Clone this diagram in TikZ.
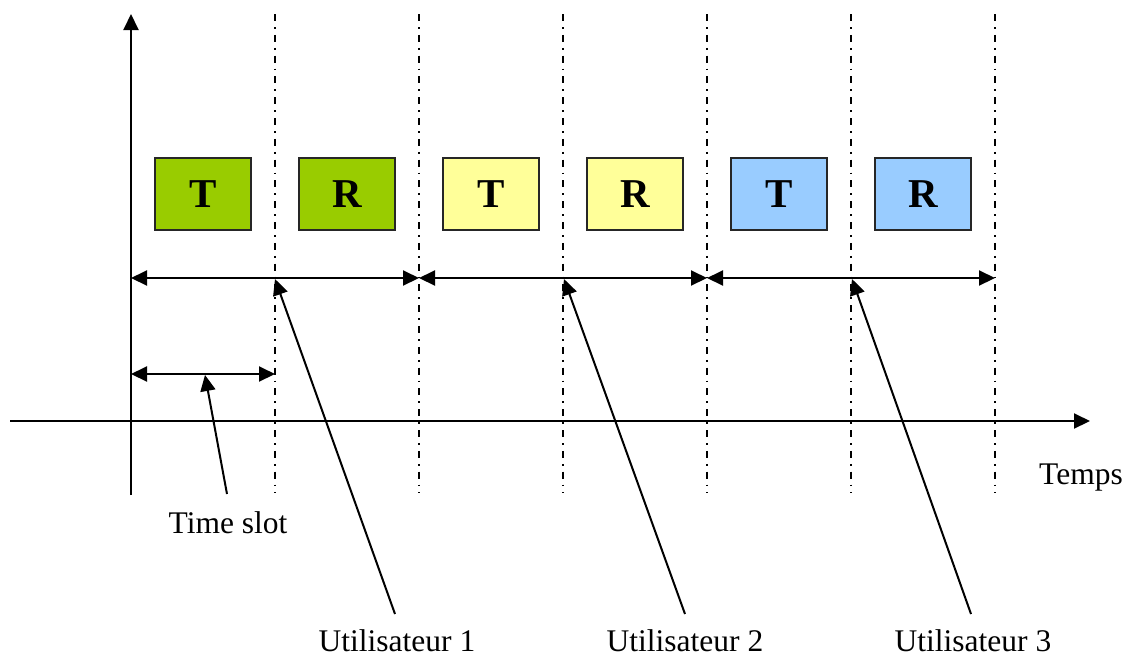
\documentclass[tikz,border=0pt]{standalone}
\usepackage{fontspec}
\setmainfont{Liberation Serif}
\usetikzlibrary{arrows.meta}
\definecolor{cgreen}{HTML}{99CC00}
\definecolor{cyellow}{HTML}{FFFF99}
\definecolor{cblue}{HTML}{99CCFF}
\begin{document}
\begin{tikzpicture}[x=1pt,y=-1pt,
  line/.style={line width=2pt},
  tip/.style={-{Triangle[length=16pt,width=15pt]}},
  dtip/.style={{Triangle[length=16pt,width=15pt]}-{Triangle[length=16pt,width=15pt]}},
  slotline/.style={line width=1.8pt,dash pattern=on 7pt off 6pt on 1.8pt off 6pt},
  boxnode/.style={draw=black!85,line width=1.8pt,minimum width=96pt,minimum height=72pt,inner sep=0pt,font=\fontsize{41}{44}\selectfont\bfseries},
  lbl/.style={font=\fontsize{31.5}{34}\selectfont,inner sep=0pt}]
\useasboundingbox (0,0) rectangle (1126,657);
% axes
\coordinate (yb) at (131,495);
\coordinate (yt) at (131,14);
\coordinate (xl) at (10,421);
\coordinate (xr) at (1090,421);
\draw[line,tip] (yb) -- (yt);
\draw[line,tip] (xl) -- (xr);
% slot lines
\foreach \x [count=\i] in {275,419,563,707,851,995}{
  \coordinate (st\i) at (\x,14);
  \coordinate (sb\i) at (\x,493);
  \draw[slotline] (st\i) -- (sb\i);
}
% boxes
\node[boxnode,fill=cgreen] (t1) at (203,194) {T};
\node[boxnode,fill=cgreen] (r1) at (347,194) {R};
\node[boxnode,fill=cyellow] (t2) at (491,194) {T};
\node[boxnode,fill=cyellow] (r2) at (635,194) {R};
\node[boxnode,fill=cblue] (t3) at (779,194) {T};
\node[boxnode,fill=cblue] (r3) at (923,194) {R};
% double arrows
\coordinate (a0) at (131,278);
\coordinate (a1) at (419,278);
\coordinate (a2) at (707,278);
\coordinate (a3) at (995,278);
\draw[line,dtip] (a0) -- (a1);
\draw[line,dtip] (a1) -- (a2);
\draw[line,dtip] (a2) -- (a3);
\coordinate (ts0) at (131,374);
\coordinate (ts1) at (275,374);
\draw[line,dtip] (ts0) -- (ts1);
% labels
\node[lbl] (tslabel) at (228,523) {Time slot};
\node[lbl] (u1) at (397,641) {Utilisateur 1};
\node[lbl] (u2) at (685,641) {Utilisateur 2};
\node[lbl] (u3) at (973,641) {Utilisateur 3};
\node[lbl] (temps) at (1081,478) {Temps};
% pointers
\coordinate (ps) at (227,494);
\coordinate (pe) at (205,375);
\draw[line,tip] (ps) -- (pe);
\coordinate (p1s) at (395,614);
\coordinate (p1e) at (275,279);
\coordinate (p2s) at (685,614);
\coordinate (p2e) at (564,279);
\coordinate (p3s) at (971,614);
\coordinate (p3e) at (852,279);
\draw[line,tip] (p1s) -- (p1e);
\draw[line,tip] (p2s) -- (p2e);
\draw[line,tip] (p3s) -- (p3e);
\end{tikzpicture}
\end{document}
